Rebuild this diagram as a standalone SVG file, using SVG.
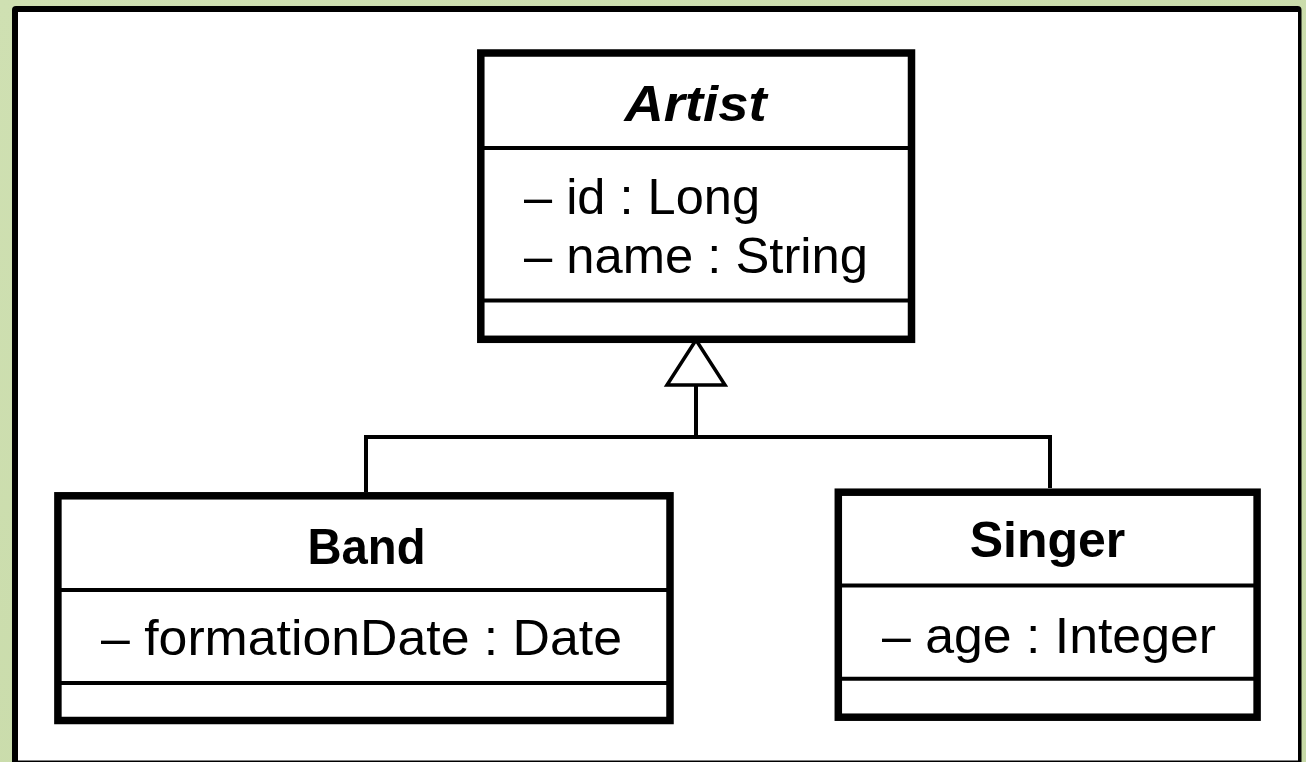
<svg xmlns="http://www.w3.org/2000/svg" width="1306" height="762" viewBox="0 0 1306 762">
  <style>
    .box { fill: #ffffff; stroke: #000000; stroke-width: 7.5; }
    .sep { stroke: #000000; stroke-width: 4; }
    .title { font-family: "Liberation Sans", Arial, sans-serif; font-size: 50px; font-weight: bold; text-anchor: middle; fill: #000000; }
    .abstract { font-style: italic; }
    .attr { font-family: "Liberation Sans", Arial, sans-serif; font-size: 50px; fill: #000000; }
    .edge { fill: none; stroke: #000000; stroke-width: 4; }
  </style>
  <defs>
    <linearGradient id="bg" x1="0" y1="0" x2="1" y2="1">
      <stop offset="0" stop-color="#cfe0b2"/>
      <stop offset="1" stop-color="#c6d9a6"/>
    </linearGradient>
    <!-- hollow triangle for generalization -->
    <marker id="inherit" markerUnits="userSpaceOnUse" viewBox="-3 -33 52 66" refX="45" refY="0" markerWidth="52" markerHeight="66" orient="auto">
      <path d="M45,0 L0,-29 L0,29 Z" fill="#ffffff" stroke="#000000" stroke-width="3.5" stroke-linejoin="miter"/>
    </marker>
  </defs>

  <!-- backdrop and drawing sheet -->
  <rect x="0" y="0" width="1306" height="762" fill="url(#bg)"/>
  <rect x="12" y="6" width="1289.5" height="760" rx="4" fill="#000000"/>
  <rect x="18" y="12" width="1280" height="748.5" fill="#ffffff"/>

  <!-- connectors -->
  <g id="connectors">
    <path class="edge" d="M366,492 V437 H1050 V488"/>
    <path class="edge" d="M696,437 V340" marker-end="url(#inherit)"/>
  </g>

  <!-- Artist (abstract) -->
  <g id="artist">
    <rect class="box" x="480.8" y="53" width="430.7" height="286.3"/>
    <line class="sep" x1="484" y1="148" x2="908" y2="148"/>
    <line class="sep" x1="484" y1="300.5" x2="908" y2="300.5"/>
    <text class="title abstract" x="695.5" y="121" textLength="142" lengthAdjust="spacingAndGlyphs">Artist</text>
    <text class="attr" x="524" y="214" textLength="236" lengthAdjust="spacingAndGlyphs">– id : Long</text>
    <text class="attr" x="524" y="273" textLength="344" lengthAdjust="spacingAndGlyphs">– name : String</text>
  </g>

  <!-- Band -->
  <g id="band">
    <rect class="box" x="57.9" y="495.8" width="612.1" height="224.7"/>
    <line class="sep" x1="61" y1="590" x2="667" y2="590"/>
    <line class="sep" x1="61" y1="683" x2="667" y2="683"/>
    <text class="title" x="366.5" y="564" textLength="118" lengthAdjust="spacingAndGlyphs">Band</text>
    <text class="attr" x="101" y="655" textLength="521" lengthAdjust="spacingAndGlyphs">– formationDate : Date</text>
  </g>

  <!-- Singer -->
  <g id="singer">
    <rect class="box" x="838.3" y="492.2" width="418.8" height="225"/>
    <line class="sep" x1="842" y1="585.5" x2="1254" y2="585.5"/>
    <line class="sep" x1="842" y1="678.7" x2="1254" y2="678.7"/>
    <text class="title" x="1047.5" y="556.7">Singer</text>
    <text class="attr" x="882" y="652.7" textLength="334" lengthAdjust="spacingAndGlyphs">– age : Integer</text>
  </g>
</svg>
